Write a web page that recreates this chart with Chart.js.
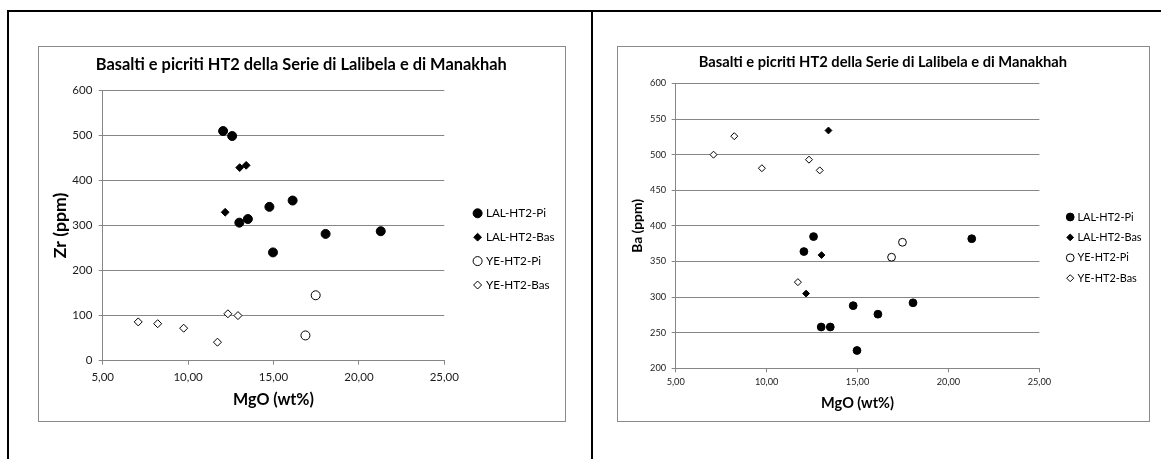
<!DOCTYPE html>
<html><head><meta charset="utf-8">
<script src="https://cdn.jsdelivr.net/npm/chart.js@4/dist/chart.umd.min.js"></script>
<style>
html,body{margin:0;padding:0;background:#fff;width:1161px;height:459px;overflow:hidden}
body{position:relative}
.ln{position:absolute;background:#000}
.box{position:absolute}
canvas{position:absolute;left:0;top:0}
</style></head><body>
<div class="ln" style="left:7px;top:10px;width:1154px;height:2px"></div>
<div class="ln" style="left:7px;top:10px;width:2px;height:449px"></div>
<div class="ln" style="left:591px;top:10px;width:2px;height:449px"></div>
<div class="box" style="left:38px;top:46px;width:528px;height:376px"><canvas id="c1" width="528" height="376"></canvas></div>
<div class="box" style="left:617px;top:46px;width:533px;height:376px"><canvas id="c2" width="533" height="376"></canvas></div>
<script>
// ---- data ----
const seriesNames = ['LAL-HT2-Pi', 'LAL-HT2-Bas', 'YE-HT2-Pi', 'YE-HT2-Bas'];
const lalPiMgO = [12.05, 12.58, 13.00, 13.50, 14.76, 16.12, 14.97, 18.05, 21.28];
const lalPiZr  = [509, 498, 306, 314, 341, 355, 240, 281, 287];
const lalPiBa  = [364, 385, 258, 258, 288, 276, 225, 292, 382];
const lalBasMgO = [13.02, 13.40, 12.17];
const lalBasZr  = [428, 433, 329];
const lalBasBa  = [359, 534, 305];
const yePiMgO = [17.47, 16.87];
const yePiZr  = [145, 56];
const yePiBa  = [377, 356];
const yeBasMgO = [7.08, 8.22, 9.74, 11.72, 12.33, 12.92];
const yeBasZr  = [86, 82, 72, 41, 104, 100];
const yeBasBa  = [500, 526, 481, 321, 493, 478];
const xTicks  = [5, 10, 15, 20, 25];
const zrTicks = [0, 100, 200, 300, 400, 500, 600];
const baTicks = [200, 250, 300, 350, 400, 450, 500, 550, 600];
const chartTitle = 'Basalti e picriti HT2 della Serie di Lalibela e di Manakhah';
const xTitle = 'MgO (wt%)';
const zrTitle = 'Zr (ppm)';
const baTitle = 'Ba (ppm)';

// ---- styling helpers ----
const FAMILY = "Lato, 'Liberation Sans', sans-serif";
const mctx = document.createElement('canvas').getContext('2d');
function fitSize(text, weight, target) {
  mctx.font = weight + ' 100px ' + FAMILY;
  return Math.round(1000 * target / mctx.measureText(text).width) / 10;
}
const GRID = '#868686';
const fmtX = v => v.toFixed(2).replace('.', ',');
const pts = (xs, ys) => xs.map((x, i) => ({x: x, y: ys[i]}));

function datasets(yPi, yBas, yYePi, yYeBas, r) {
  return [
    {label: seriesNames[0], data: pts(lalPiMgO, yPi), pointStyle: 'circle', pointRadius: r.c, backgroundColor: '#000', borderColor: '#000', borderWidth: 1},
    {label: seriesNames[1], data: pts(lalBasMgO, yBas), pointStyle: 'rectRot', pointRadius: r.d, backgroundColor: '#000', borderColor: '#000', borderWidth: 1},
    {label: seriesNames[2], data: pts(yePiMgO, yYePi), pointStyle: 'circle', pointRadius: r.oc, backgroundColor: '#fff', borderColor: '#000', borderWidth: 1},
    {label: seriesNames[3], data: pts(yeBasMgO, yYeBas), pointStyle: 'rectRot', pointRadius: r.od, backgroundColor: '#fff', borderColor: '#000', borderWidth: 1}
  ];
}

function drawMarker(ctx, ds, x, y) {
  const r = ds.pointRadius;
  ctx.beginPath();
  if (ds.pointStyle === 'circle') {
    ctx.arc(x, y, r, 0, Math.PI * 2);
  } else {
    ctx.moveTo(x, y - r); ctx.lineTo(x + r, y); ctx.lineTo(x, y + r); ctx.lineTo(x - r, y); ctx.closePath();
  }
  ctx.fillStyle = ds.backgroundColor; ctx.fill();
  ctx.lineWidth = ds.borderWidth; ctx.strokeStyle = ds.borderColor; ctx.stroke();
}

function decor(cfg) {
  return {
    id: 'decor',
    afterDraw(chart) {
      const ctx = chart.ctx;
      ctx.save();
      ctx.strokeStyle = '#8a8a8a'; ctx.lineWidth = 1;
      ctx.strokeRect(0.5, 0.5, chart.width - 1, chart.height - 1);
      ctx.fillStyle = '#000';
      ctx.font = 'bold ' + cfg.titleSize + 'px ' + FAMILY;
      ctx.textAlign = 'center'; ctx.textBaseline = 'middle';
      ctx.fillText(chartTitle, cfg.titleX, cfg.titleY);
      chart.data.datasets.forEach((ds, i) => {
        const y = cfg.legY0 + i * cfg.legDy;
        drawMarker(ctx, ds, cfg.legX, y);
        ctx.fillStyle = '#000';
        ctx.font = cfg.legSize + 'px ' + FAMILY;
        ctx.textAlign = 'left'; ctx.textBaseline = 'middle';
        ctx.fillText(ds.label, cfg.legTextX, y);
      });
      ctx.restore();
    }
  };
}

function makeChart(id, ds, yTicks, yTitle, L) {
  const tickSize = fitSize('25,00', 'normal', L.tickW);
  const yTitleSize = fitSize(yTitle, 'bold', L.yTitleW);
  const xTitleSize = fitSize(xTitle, 'bold', L.xTitleW);
  return new Chart(document.getElementById(id), {
    type: 'scatter',
    data: {datasets: ds},
    options: {
      responsive: false, animation: false, devicePixelRatio: 1,
      layout: {padding: {left: 0, right: L.padRight, top: L.padTop, bottom: 0}},
      plugins: {legend: {display: false}, tooltip: {enabled: false}, title: {display: false}},
      scales: {
        x: {
          type: 'linear', min: xTicks[0], max: xTicks[xTicks.length - 1],
          afterBuildTicks: s => { s.ticks = xTicks.map(v => ({value: v})); },
          afterFit: s => { s.height = L.xH; },
          grid: {drawOnChartArea: false, drawTicks: true, tickLength: 4, color: GRID},
          border: {display: true, color: GRID, width: 1},
          ticks: {callback: v => fmtX(v), padding: L.xPad, color: '#1a1a1a', maxRotation: 0, autoSkip: false,
                  font: {family: FAMILY, size: tickSize}},
          title: {display: true, text: xTitle, color: '#000',
                  font: {family: FAMILY, size: xTitleSize, weight: 'bold'},
                  padding: {top: 0, bottom: L.xTitleOff - xTitleSize * 0.6}}
        },
        y: {
          type: 'linear', min: yTicks[0], max: yTicks[yTicks.length - 1],
          afterBuildTicks: s => { s.ticks = yTicks.map(v => ({value: v})); },
          afterFit: s => { s.width = L.yW; },
          grid: {drawOnChartArea: true, drawTicks: true, tickLength: 4, color: GRID},
          border: {display: true, color: GRID, width: 1},
          ticks: {padding: L.yPad, color: '#1a1a1a', autoSkip: false,
                  font: {family: FAMILY, size: tickSize}},
          title: {display: true, text: yTitle, color: '#000',
                  font: {family: FAMILY, size: yTitleSize, weight: 'bold'},
                  padding: {top: L.yTitleOff - yTitleSize * 0.6, bottom: 0}}
        }
      }
    },
    plugins: [decor({
      titleSize: fitSize(chartTitle, 'bold', L.titleW), titleX: L.titleX, titleY: L.titleY,
      legSize: fitSize('LAL-HT2-Bas', 'normal', L.legW), legX: L.legX, legTextX: L.legTextX,
      legY0: L.legY0, legDy: L.legDy
    })]
  });
}

makeChart('c1', datasets(lalPiZr, lalBasZr, yePiZr, yeBasZr, {c: 4.5, d: 3.9, oc: 4.5, od: 4}),
  zrTicks, zrTitle, {
    padRight: 121.7, padTop: 44, xH: 61.3, yW: 64.7,
    xPad: 6, yPad: 6.4, tickW: 29.3,
    yTitleW: 65.7, xTitleW: 81, yTitleOff: 22.3, xTitleOff: 22,
    titleW: 410.5, titleX: 263.3, titleY: 18.3,
    legW: 69, legX: 439.6, legTextX: 447.9, legY0: 167.3, legDy: 23.9
  });

makeChart('c2', datasets(lalPiBa, lalBasBa, yePiBa, yeBasBa, {c: 3.9, d: 3.4, oc: 3.9, od: 3.5}),
  baTicks, baTitle, {
    padRight: 110.6, padTop: 37.5, xH: 53.7, yW: 58.7,
    xPad: 4, yPad: 5.6, tickW: 23.4,
    yTitleW: 54, xTitleW: 73, yTitleOff: 20.8, xTitleOff: 18.7,
    titleW: 369, titleX: 265.9, titleY: 16,
    legW: 64, legX: 453.2, legTextX: 460.5, legY0: 171, legDy: 20.4
  });
</script>
</body></html>
